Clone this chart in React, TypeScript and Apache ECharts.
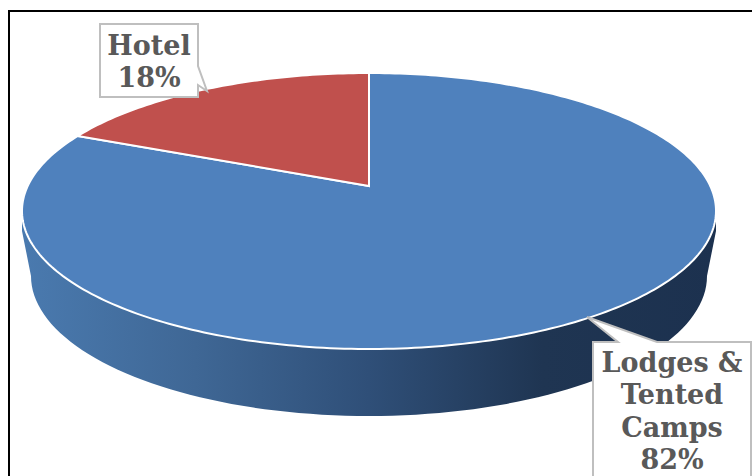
import React, { useEffect, useRef } from "react";
import * as echarts from "echarts";

const categories = ["Lodges & Tented Camps", "Hotel"];
const values = [82, 18];
const labelLines = [["Lodges &", "Tented", "Camps"], ["Hotel"]];

const WIDTH = 752;
const HEIGHT = 476;
const SLICE_COLORS = ["#4f81bd", "#c0504d"];
const LABEL_FONT = '"DejaVu Serif", serif';

// Tilted disc: the top face is an ellipse seen in perspective, so the apex
// sits above the ellipse centre and angles bunch up towards the far edge.
const DISC = { cx: 369, cy: 211, rx: 347, ry: 138, apexY: 186, k: 0.153 };
const BASE = { cx: 369, cy: 276, rx: 338, ry: 140 };
const WALL_SHOULDER = 20;

const rimPoint = (theta: number): [number, number] => {
  const { cx, cy, rx, ry, k } = DISC;
  const w = 1 + k * Math.cos(theta);
  const a = rx * Math.sqrt(1 - k * k);
  const y0 = cy - ry * k;
  const b = -ry + cy * k;
  return [cx + (a * Math.sin(theta)) / w, (y0 + b * Math.cos(theta)) / w];
};

const pathOf = (pts: [number, number][], close = true) =>
  pts.map((p, i) => `${i ? "L" : "M"}${p[0].toFixed(2)} ${p[1].toFixed(2)}`).join("") +
  (close ? "Z" : "");

const sliceAngles = (index: number) => {
  const total = values.reduce((s, v) => s + v, 0);
  const before = values.slice(0, index).reduce((s, v) => s + v, 0);
  const toRad = (v: number) => (v / total) * Math.PI * 2;
  return [toRad(before), toRad(before + values[index])];
};

const slicePath = (index: number) => {
  const [start, end] = sliceAngles(index);
  const steps = Math.ceil(((end - start) / Math.PI) * 180);
  const pts: [number, number][] = [[DISC.cx, DISC.apexY]];
  for (let i = 0; i <= steps; i++) pts.push(rimPoint(start + ((end - start) * i) / steps));
  return pathOf(pts);
};

// Visible side wall: lower half of the top rim plus the lower half of the base ellipse.
const wallPath = () => {
  const pts: [number, number][] = [];
  for (let d = 0; d <= 180; d += 2) {
    const t = (d / 180) * Math.PI;
    pts.push([DISC.cx + DISC.rx * Math.cos(t), DISC.cy + DISC.ry * Math.sin(t)]);
  }
  pts.push([DISC.cx - DISC.rx, DISC.cy + WALL_SHOULDER]);
  for (let d = 180; d >= 0; d -= 2) {
    const t = (d / 180) * Math.PI;
    pts.push([BASE.cx + BASE.rx * Math.cos(t), BASE.cy + BASE.ry * Math.sin(t)]);
  }
  pts.push([DISC.cx + DISC.rx, DISC.cy + WALL_SHOULDER]);
  return pathOf(pts);
};

const wallGradient = () =>
  new echarts.graphic.LinearGradient(0, 0, 1, 0, [
    { offset: 0, color: "#4a7aaf" },
    { offset: 0.25, color: "#3f6795" },
    { offset: 0.5, color: "#2f4f78" },
    { offset: 0.75, color: "#1f3552" },
    { offset: 1, color: "#1c314f" },
  ]);

// One callout per slice, in the same order as the categories.
const calloutBoxes = [
  { x: 593, y: 342, width: 158, height: 150, firstLineY: 362, tip: [587, 317], base: [[618, 342], [657, 342]] },
  { x: 100, y: 24, width: 98, height: 73, firstLineY: 45, tip: [207, 91], base: [[198, 66], [198, 85]] },
];

const callout = (index: number) => {
  const { x, y, width, height, firstLineY, tip, base } = calloutBoxes[index];
  const lines = [...labelLines[index], `${values[index]}%`];
  const lineHeight = 32.6;
  const outline =
    index === 1
      ? [[x, y], [x + width, y], base[0], tip, base[1], [x + width, y + height], [x, y + height]]
      : [[x, y], base[0], tip, base[1], [x + width, y], [x + width, y + height], [x, y + height]];
  return [
    {
      type: "polygon",
      z2: 10,
      shape: { points: outline },
      style: { fill: "#ffffff", stroke: "#bfbfbf", lineWidth: 2 },
    },
    ...lines.map((text, i) => ({
      type: "text",
      z2: 11,
      style: {
        text,
        x: x + width / 2,
        y: firstLineY + i * lineHeight,
        align: "center",
        verticalAlign: "middle",
        font: `bold 27px ${LABEL_FONT}`,
        fill: "#595959",
      },
    })),
  ];
};

const renderSlice = (params: any) => {
  const index = params.dataIndex;
  const children: any[] = [];
  const [start, end] = sliceAngles(index);
  if (start <= Math.PI && end >= Math.PI) {
    children.push({
      type: "path",
      z2: 1,
      shape: { pathData: wallPath() },
      style: { fill: wallGradient(), stroke: "none" },
    });
  }
  children.push({
    type: "path",
    z2: 2 + index,
    shape: { pathData: slicePath(index) },
    style: { fill: SLICE_COLORS[index], stroke: "#ffffff", lineWidth: 2 },
  });
  children.push(...callout(index));
  return { type: "group", children };
};

export default function App() {
  const ref = useRef<HTMLDivElement>(null);
  useEffect(() => {
    document.body.style.margin = "0";
    const chart = echarts.init(ref.current!, undefined, { renderer: "svg" });
    chart.setOption({
      animation: false,
      backgroundColor: "#ffffff",
      graphic: [
        { type: "rect", shape: { x: 8, y: 10, width: 2, height: HEIGHT - 10 }, style: { fill: "#000000" } },
        { type: "rect", shape: { x: 8, y: 10, width: WIDTH - 8, height: 2 }, style: { fill: "#000000" } },
      ],
      series: [
        {
          type: "custom",
          coordinateSystem: "none",
          clip: false,
          data: categories.map((name, i) => ({ name, value: values[i] })),
          renderItem: renderSlice,
        },
      ],
    });
    return () => chart.dispose();
  }, []);
  return <div ref={ref} style={{ width: WIDTH, height: HEIGHT }} />;
}
